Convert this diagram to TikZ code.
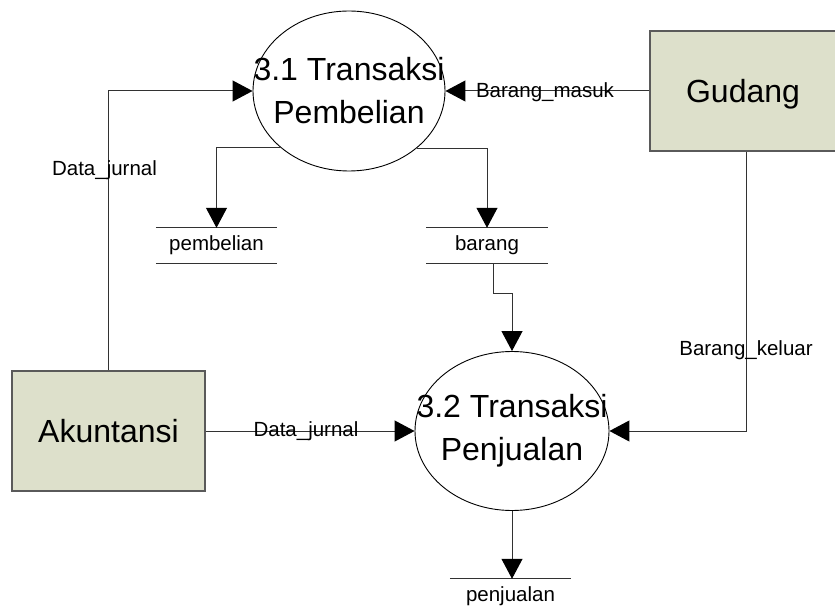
\documentclass[tikz,border=0pt]{standalone}
\usepackage{fontspec}
\setmainfont{Liberation Sans}
\usetikzlibrary{arrows.meta,shapes.geometric}

\definecolor{boxfill}{RGB}{221,224,203}
\definecolor{boxline}{RGB}{90,90,90}
\definecolor{flowline}{RGB}{50,50,50}

\tikzset{
  big/.style={font=\fontsize{32}{43}\selectfont},
  small/.style={font=\fontsize{20.5}{24}\selectfont},
  % fixed-size ellipse; the caption sits on top of it as a centred label
  process/.style={ellipse, draw=black, line width=0.9pt, inner sep=0pt},
  caption/.style={big, align=center, inner sep=0pt},
  entity/.style={rectangle, draw=boxline, fill=boxfill, line width=1.2pt,
    inner sep=0pt, big},
  datastore/.style={rectangle, inner sep=0pt, minimum width=121pt,
    minimum height=35pt, small,
    append after command={\pgfextra{\let\storenode\tikzlastnode
      \draw[flowline, line width=0.9pt]
      (\storenode.north west) -- (\storenode.north east)
      (\storenode.south west) -- (\storenode.south east);}}},
  flow/.style={draw=flowline, line width=1pt,
    -{Triangle[length=20pt,width=21pt,black]}},
  flowlabel/.style={small, inner sep=0pt},
}

\begin{document}
\begin{tikzpicture}[x=1pt,y=-1pt]
\useasboundingbox (0,0) rectangle (835,612);

% processes
\node[process, minimum width=192pt, minimum height=160pt,
  label={[caption]center:{3.1 Transaksi\\Pembelian}}] (p1) at (349,91) {};
\node[process, minimum width=194pt, minimum height=159pt,
  label={[caption]center:{3.2 Transaksi\\Penjualan}}] (p2) at (512,431) {};

% external entities
\node[entity, minimum width=186pt, minimum height=120pt,
  label={[big, inner sep=0pt, yshift=-3pt]center:Gudang}] (gud) at (743,91) {};
\node[entity, minimum width=193pt, minimum height=120pt] (akun) at (108.5,431) {Akuntansi};

% data stores
\node[datastore] (pemb) at (216.5,245.5) {pembelian};
\node[datastore] (bar) at (487,245.5) {barang};
\node[datastore] (penj) at (510.5,596.5) {penjualan};

% flows
\draw[flow] (akun.north) |- (p1.west);
\node[flowlabel] (lbl1) at (104.5,170) {Data\_jurnal};

\draw[flow] (gud.west) -- (p1.east);
\node[flowlabel] (lbl2) at (545,92) {Barang\_masuk};

\draw[flow] (p1.219.2) -| (pemb.north);
\draw[flow] (p1.320.8) -| (bar.north);

\draw[flow] ([xshift=6pt]bar.south) -- ++(0,30) -| (p2.north);

\draw[flow] (akun.east) -- (p2.west);
\node[flowlabel] (lbl3) at (306,431) {Data\_jurnal};

\draw[flow] ([xshift=3pt]gud.south) |- (p2.east);
\node[flowlabel] (lbl4) at (746,350) {Barang\_keluar};

\draw[flow] (p2.south) -- (p2.south |- penj.north);
\end{tikzpicture}
\end{document}
